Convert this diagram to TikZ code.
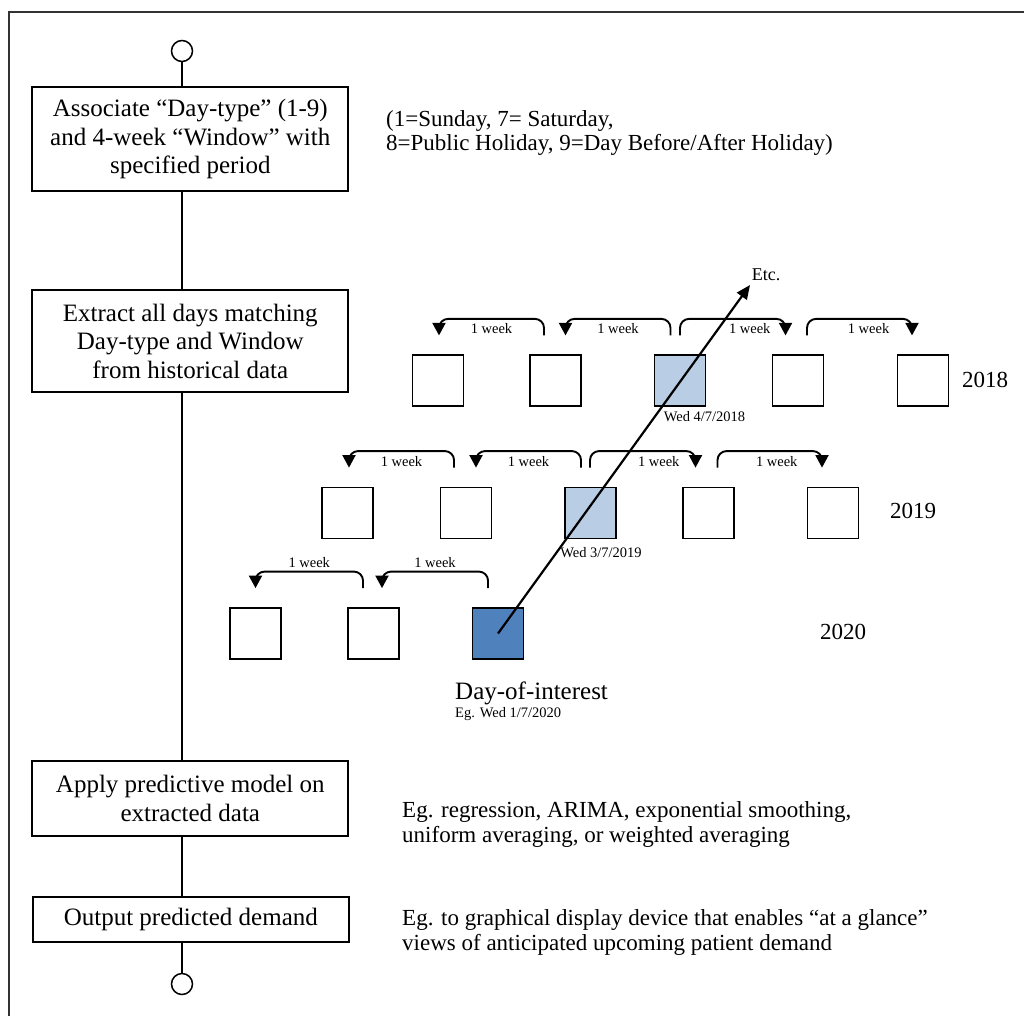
\documentclass[tikz,border=0pt]{standalone}
\usepackage{fontspec}
\setmainfont{Liberation Serif}
\usetikzlibrary{arrows.meta}
\definecolor{lightblue}{HTML}{B9CDE5}
\definecolor{darkblue}{HTML}{4F81BD}
\definecolor{framegray}{HTML}{333333}

% curved "1 week" hop between two day boxes:
% #1 source box, #2 x offset at source, #3 target box, #4 x offset at target, #5 label options
\newcommand{\weekhop}[5]{%
  \draw[weekarrow] ([xshift=#2pt,yshift=19pt]#1.north) -- ++(0,-16.5)
    -| node[weeklabel,pos=0.25,#5]{1 week} ([xshift=#4pt,yshift=19pt]#3.north);}

\begin{document}
\begin{tikzpicture}[x=1pt,y=-1pt,
  stepbox/.style={draw, line width=1.8pt, minimum width=316pt, align=center,
    font=\fontsize{25}{28.5}\selectfont, inner sep=0pt},
  terminal/.style={draw, circle, line width=1.5pt, minimum size=21pt, inner sep=0pt},
  flow/.style={line width=1.3pt},
  daybox/.style={draw, line width=1.8pt, minimum size=51pt, inner sep=0pt},
  weekarrow/.style={line width=1.9pt, rounded corners=9pt,
    -{Triangle[length=12.5pt,width=13pt]}},
  weeklabel/.style={font=\fontsize{14.5}{16}\selectfont, inner sep=0pt},
  note/.style={font=\fontsize{23}{24.5}\selectfont, align=left, anchor=west, inner sep=0pt},
  year/.style={font=\fontsize{23}{25}\selectfont, inner sep=0pt},
  datelabel/.style={font=\fontsize{14.5}{16}\selectfont, inner sep=0pt}
]
\useasboundingbox (0,0) rectangle (1024,1015);

% outer frame (left and top edges)
\draw[line width=2pt, framegray] (9,1020) -- (9,11.5) -- (1030,11.5);

% ---------- flow chart ----------
\node[terminal] (start) at (182,51) {};
\node[stepbox, minimum height=103.7pt] (s1) at (190.3,139.2)
  {Associate “Day-type” (1-9)\\and 4-week “Window” with\\specified period};
\node[stepbox, minimum height=102pt] (s2) at (190.3,341)
  {Extract all days matching\\Day-type and Window\\from historical data};
\node[stepbox, minimum height=75.3pt] (s3) at (190.3,798.3)
  {Apply predictive model on\\extracted data};
\node[stepbox, minimum height=45pt] (s4) at (190.8,919.5)
  {Output predicted demand};
\node[terminal] (stop) at (182,984) {};

\draw[flow] (start.south) -- (start.south |- s1.north);
\draw[flow] (s1.south -| start) -- (s2.north -| start);
\draw[flow] (s2.south -| start) -- (s3.north -| start);
\draw[flow] (s3.south -| start) -- (s4.north -| start);
\draw[flow] (s4.south -| start) -- (stop.north);

% ---------- side notes ----------
\node[note] (n1) at (386,133)
  {(1=Sunday, 7= Saturday,\\8=Public Holiday, 9=Day Before/After Holiday)};
\node[note] (n3) at (402,824.5)
  {Eg. regression, ARIMA, exponential smoothing,\\uniform averaging, or weighted averaging};
\node[note] (n4) at (402,932.5)
  {Eg. to graphical display device that enables “at a glance”\\views of anticipated upcoming patient demand};

% ---------- day boxes ----------
% 2018
\node[daybox] (b18a) at (438,380.8) {};
\node[daybox] (b18b) at (555.5,380.8) {};
\node[daybox, fill=lightblue] (b18c) at (680,380.8) {};
\node[daybox] (b18d) at (798,380.8) {};
\node[daybox] (b18e) at (923,380.8) {};
\node[year] (y18) at (985,380) {2018};
\node[datelabel] (d18) at (704.5,416.5) {Wed 4/7/2018};
% 2019
\node[daybox] (b19a) at (347.5,513) {};
\node[daybox] (b19b) at (466,513) {};
\node[daybox, fill=lightblue] (b19c) at (590.5,513) {};
\node[daybox] (b19d) at (708.5,513) {};
\node[daybox] (b19e) at (833,513) {};
\node[year] (y19) at (913,511) {2019};
\node[datelabel] (d19) at (601,553) {Wed 3/7/2019};
% 2020
\node[daybox] (b20a) at (255.5,633.5) {};
\node[daybox] (b20b) at (373.5,633.5) {};
\node[daybox, fill=darkblue] (b20c) at (498,633.5) {};
\node[year] (y20) at (843,632) {2020};
\node[anchor=west, inner sep=0pt, font=\fontsize{25}{28}\selectfont] (doi) at (455,693) {Day-of-interest};
\node[anchor=west, inner sep=0pt, font=\fontsize{14.5}{16}\selectfont] (doieg) at (455,714.5) {Eg. Wed 1/7/2020};

% ---------- weekly hops ----------
\weekhop{b18b}{-11.5}{b18a}{1}{yshift=-10pt}
\weekhop{b18c}{-9.5}{b18b}{10}{yshift=-10pt}
\weekhop{b18c}{0}{b18d}{-12.5}{yshift=-10pt,xshift=17pt}
\weekhop{b18d}{9}{b18e}{-11}{yshift=-10pt,xshift=9pt}

\weekhop{b19b}{-12}{b19a}{1.5}{yshift=-10pt}
\weekhop{b19c}{-9.5}{b19b}{10}{yshift=-10pt}
\weekhop{b19c}{-0.5}{b19d}{-13}{yshift=-10pt,xshift=16pt}
\weekhop{b19d}{9}{b19e}{-11}{yshift=-10pt,xshift=7pt}

\weekhop{b20b}{-10.5}{b20a}{0}{yshift=9pt}
\weekhop{b20c}{-10}{b20b}{8.5}{yshift=9pt}

% ---------- trace back through the years ----------
\coordinate (etctip) at (750,285);
\node[inner sep=0pt, font=\fontsize{18}{20}\selectfont] (etc) at (766,275) {Etc.};
\draw[line width=2.2pt, -{Triangle[length=14pt,width=12pt]}] (b20c.center) -- (etctip);

\end{tikzpicture}
\end{document}
